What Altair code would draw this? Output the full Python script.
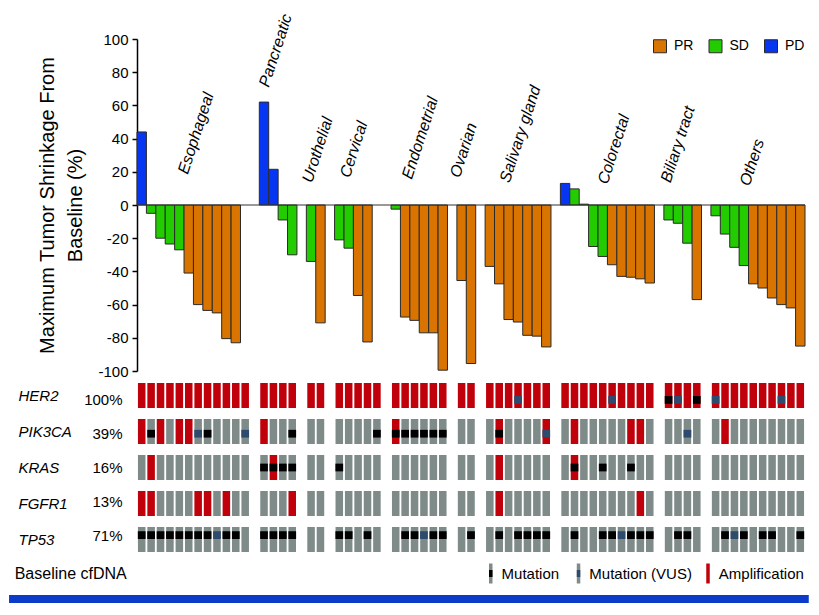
import altair as alt
import pandas as pd

FONT = "Liberation Sans"

# ---------------- data ----------------
groups = ["Esophageal", "Pancreatic", "Urothelial", "Cervical", "Endometrial",
          "Ovarian", "Salivary gland", "Colorectal", "Biliary tract", "Others"]

# maximum tumor shrinkage (%) per patient, per group (None = no bar)
shrink_esophageal = [44, -5, -20, -23.5, -27, -41, -60, -63.5, -65, -80.5, -83, None]
shrink_pancreatic = [62, 21.5, -9, -30]
shrink_urothelial = [-34, -71]
shrink_cervical = [-21, -26, -54.5, -82.5, None]
shrink_endometrial = [-2.5, -67.5, -69.5, -77, -77, -99.5]
shrink_ovarian = [-45.5, -95.5]
shrink_salivary = [-37, -47.5, -69, -70.5, -78.5, -79, -85.5]
shrink_colorectal = [13, 9.7, 0.5, -25, -31, -36, -43, -43.5, -44.5, -47]
shrink_biliary = [-9, -11, -23, -57]
shrink_others = [-6.5, -17.5, -25.5, -36.5, -47.5, -50, -56, -60, -62, -85]

resp_esophageal = ["PD", "SD", "SD", "SD", "SD", "PR", "PR", "PR", "PR", "PR", "PR", None]
resp_pancreatic = ["PD", "PD", "SD", "SD"]
resp_urothelial = ["SD", "PR"]
resp_cervical = ["SD", "SD", "PR", "PR", None]
resp_endometrial = ["SD", "PR", "PR", "PR", "PR", "PR"]
resp_ovarian = ["PR", "PR"]
resp_salivary = ["PR", "PR", "PR", "PR", "PR", "PR", "PR"]
resp_colorectal = ["PD", "SD", "SD", "SD", "SD", "PR", "PR", "PR", "PR", "PR"]
resp_biliary = ["SD", "SD", "SD", "PR"]
resp_others = ["SD", "SD", "SD", "SD", "PR", "PR", "PR", "PR", "PR", "PR"]

shrinkage = [shrink_esophageal, shrink_pancreatic, shrink_urothelial, shrink_cervical,
             shrink_endometrial, shrink_ovarian, shrink_salivary, shrink_colorectal,
             shrink_biliary, shrink_others]
responses = [resp_esophageal, resp_pancreatic, resp_urothelial, resp_cervical,
             resp_endometrial, resp_ovarian, resp_salivary, resp_colorectal,
             resp_biliary, resp_others]

# baseline cfDNA alterations, one character per patient, groups separated by "|"
# . none, A amplification, M mutation, V mutation (VUS), B amp+mutation, W amp+VUS
genes = ["HER2", "PIK3CA", "KRAS", "FGFR1", "TP53"]
alt_HER2 = "AAAAAAAAAAAA|AAAA|AA|AAAAA|AAAAAA|AA|AAAWAAA|AAAAAWAAAA|BWAB|WAAAAAAWAA"
alt_PIK3CA = "AMA.AAVM...V|A..M|..|....M|BMMMMM|..|.B....W|.A.....AA.|..V.|.A........"
alt_KRAS = ".A..........|MBMM|..|M....|......|..|.A.....|.B..M..M..|....|.........."
alt_FGFR1 = "AA....AA.A..|...A|..|.....|......|..|.A.....|........A.|....|.........."
alt_TP53 = "MMMMMMMMVMM.|MMMM|..|MM.M.|.MMVMM|.M|.M.MMMM|.M..MMVMMM|.MM.|.MVM.MM..M"
alterations = [alt_HER2, alt_PIK3CA, alt_KRAS, alt_FGFR1, alt_TP53]

response_order = ["PR", "SD", "PD"]
legend_items = ["Mutation", "Mutation (VUS)", "Amplification"]
legend_kinds = ["mut", "vus", "amp"]

# ---------------- layout / styles ----------------
C_PR, C_SD, C_PD = "#D97400", "#22CC00", "#0636F2"
C_GREY, C_RED, C_MUT, C_VUS = "#7E8B89", "#C0000B", "#000000", "#2E4A6C"
C_FRAME = "#0B3BC8"
W = 668
# annotation anchors for group names (slot units, % units)
label_slot = [5.4, 14.0, 18.6, 22.6, 29.2, 34.3, 39.6, 50.0, 56.7, 65.1]
label_val = [18, 70.5, 13, 16, 15, 16, 13, 12, 13, 11]
legend_glyph_slot = [37.6, 46.93, 60.69]
legend_text_gap = 1.15
baseline_label_slot = -13.0

# ---------------- build tables ----------------
slots = []
s = 0
for vals in shrinkage:
    for _ in vals:
        slots.append(s)
        s += 1
    s += 1
n_slots = s - 1

flat_vals = [v for g in shrinkage for v in g]
flat_resp = [r for g in responses for r in g]
wf = pd.DataFrame({"slot": slots, "value": flat_vals, "response": flat_resp})
wf = wf.dropna(subset=["value"]).copy()
wf["slot_end"] = wf["slot"] + 1

labels = pd.DataFrame({"group": groups, "lx": label_slot, "ly": label_val})

rows = []
for gene, codes in zip(genes, alterations):
    seq = codes.replace("|", "")
    for i, ch in enumerate(seq):
        rows.append({
            "gene": gene, "slot": slots[i],
            "state": "amp" if ch in "ABW" else "none",
            "mark": "mut" if ch in "MB" else ("vus" if ch in "VW" else None),
        })
onc = pd.DataFrame(rows)
muts = onc.dropna(subset=["mark"])

n_pat = len(slots)
pct = {}
for gene, codes in zip(genes, alterations):
    seq = codes.replace("|", "")
    pct[gene] = round(100 * sum(ch != "." for ch in seq) / n_pat)
pct_expr = "''"
for g in reversed(genes):
    pct_expr = f"datum.value == '{g}' ? '{pct[g]}%' : ({pct_expr})"

# ---------------- waterfall ----------------
xq = alt.Scale(domain=[0, n_slots], nice=False, zero=False)
yq = alt.Scale(domain=[-100, 100], nice=False)
y_axis = alt.Axis(
    values=list(range(-100, 101, 20)), labelExpr="'' + datum.value",
    labelOverlap=False,
    title=["Maximum Tumor Shrinkage From", "Baseline (%)"],
    titleFontSize=20, titleFontWeight="normal", titleColor="black",
    titleFont=FONT, titlePadding=12, titleLineHeight=28,
    labelFontSize=15, labelFont=FONT, labelColor="black", labelPadding=4,
    tickSize=5, tickColor="black", tickWidth=1.5,
    domainColor="black", domainWidth=1.5, grid=False)

bars = alt.Chart(wf).mark_rect(stroke="#2a2a2a", strokeWidth=1).encode(
    x=alt.X("slot:Q", scale=xq, axis=None),
    x2="slot_end:Q",
    y=alt.Y("value:Q", scale=yq, axis=y_axis),
    y2=alt.datum(0),
    color=alt.Color("response:N", scale=alt.Scale(domain=response_order, range=[C_PR, C_SD, C_PD]),
                    legend=alt.Legend(title=None, orient="top-right", direction="horizontal",
                                      symbolType="square", symbolSize=169,
                                      symbolStrokeColor="#2a2a2a", symbolStrokeWidth=1,
                                      labelFontSize=14, labelFont=FONT, labelColor="black",
                                      offset=0, padding=0, columnPadding=12.5, labelOffset=7)),
)
zero = alt.Chart(pd.DataFrame({"zero": [0]})).mark_rule(color="#333333", strokeWidth=1).encode(
    y=alt.Y("zero:Q", scale=yq, axis=y_axis))
glabels = alt.Chart(labels).mark_text(align="left", baseline="alphabetic", angle=288,
                                      fontSize=16, fontStyle="italic", font=FONT, color="black").encode(
    x=alt.X("lx:Q", scale=xq, axis=None), y=alt.Y("ly:Q", scale=yq, axis=y_axis), text="group:N")
waterfall = alt.layer(bars, zero, glabels).properties(width=W, height=332)

# ---------------- oncoprint ----------------
xb = alt.Scale(domain=list(range(n_slots)), paddingInner=0.2, paddingOuter=0.1)
yb = alt.Scale(domain=genes, paddingInner=11 / 36, paddingOuter=0)
cells = alt.Chart(onc).mark_rect().encode(
    x=alt.X("slot:O", scale=xb, axis=None),
    y=alt.Y("gene:N", scale=yb, axis=alt.Axis(
        orient="left", title=None, labelFontStyle="italic", labelAlign="left",
        labelPadding=119, ticks=False, tickSize=0, domain=False,
        labelFontSize=15, labelFont=FONT, labelColor="black")),
    color=alt.Color("state:N", scale=alt.Scale(domain=["none", "amp"], range=[C_GREY, C_RED]), legend=None),
)
squares = alt.Chart(muts).mark_square(size=60, opacity=1, strokeWidth=0).encode(
    x=alt.X("slot:O", scale=xb, axis=None),
    y=alt.Y("gene:N", scale=yb, axis=alt.Axis(
        orient="left", title=None, labelExpr=pct_expr, labelAlign="right",
        labelPadding=15, ticks=False, tickSize=0, domain=False,
        labelFontSize=15, labelFont=FONT, labelColor="black")),
    color=alt.Color("mark:N", scale=alt.Scale(domain=["mut", "vus"], range=[C_MUT, C_VUS]), legend=None),
)
oncoprint = alt.layer(cells, squares).resolve_scale(y="independent", color="independent") \
    .resolve_axis(y="independent").properties(width=W, height=169)

# ---------------- bottom legend ----------------
leg = pd.DataFrame({"label": legend_items, "kind": legend_kinds, "gx": legend_glyph_slot})
leg["tx"] = leg["gx"] + legend_text_gap
glyph = alt.Chart(leg).mark_tick(thickness=3.5, size=20, opacity=1).encode(
    x=alt.X("gx:Q", scale=xq, axis=None),
    color=alt.Color("kind:N", scale=alt.Scale(domain=legend_kinds, range=[C_GREY, C_GREY, C_RED]), legend=None))
glyph_mid = alt.Chart(leg[leg["kind"] != "amp"]).mark_tick(thickness=3.5, size=7, opacity=1).encode(
    x=alt.X("gx:Q", scale=xq, axis=None),
    color=alt.Color("kind:N", scale=alt.Scale(domain=["mut", "vus"], range=[C_MUT, C_VUS]), legend=None))
leg_text = alt.Chart(leg).mark_text(align="left", baseline="middle", fontSize=15, font=FONT, color="black").encode(
    x=alt.X("tx:Q", scale=xq, axis=None), text="label:N")
base_text = alt.Chart(pd.DataFrame({"t": ["Baseline cfDNA"], "x": [baseline_label_slot]})).mark_text(
    align="left", baseline="middle", fontSize=16, font=FONT, color="black").encode(
    x=alt.X("x:Q", scale=xq, axis=None), text="t:N")
legend_row = alt.layer(glyph, glyph_mid, leg_text, base_text).resolve_scale(color="independent") \
    .properties(width=W, height=35)

band = alt.Chart(pd.DataFrame({"band": [1]})).mark_rect(color=C_FRAME).encode(
    x=alt.X("a:Q", scale=xq, axis=None), x2="b:Q"
).transform_calculate(a="-13.6", b="71.4").properties(width=W, height=8)

chart = alt.vconcat(waterfall, oncoprint, legend_row, band, spacing=4).properties(
    padding={"left": 1, "top": 4, "right": 0, "bottom": 0}
).configure(font=FONT).configure_view(stroke=None)

chart.save("out.html", embed_options={"renderer": "svg", "actions": False})
